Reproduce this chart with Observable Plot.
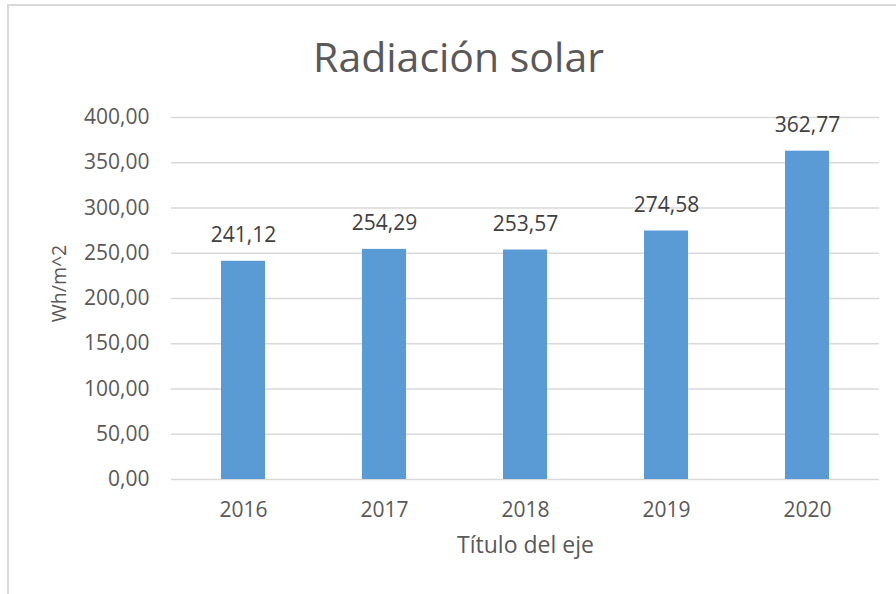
<!DOCTYPE html>
<html>
<head>
<meta charset="utf-8">
<script src="https://cdn.jsdelivr.net/npm/d3@7"></script>
<script src="https://cdn.jsdelivr.net/npm/@observablehq/plot@0.6"></script>
<style>
  body { margin: 0; background: #fff; }
  #wrap { position: relative; width: 896px; height: 594px; overflow: hidden; font-family: "Open Sans", sans-serif; }
  #border { position: absolute; left: 7px; top: 4px; width: 1000px; height: 1000px; border: 2px solid #d9d9d9; box-sizing: border-box; }
  #title { position: absolute; left: 0; width: 917px; top: 36px; text-align: center; font-size: 41px; color: #595959; line-height: 1; }
  #chart { position: absolute; left: 0; top: 0; }
</style>
</head>
<body>
<div id="wrap">
  <div id="border"></div>
  <div id="title">Radiación solar</div>
  <div id="chart"></div>
</div>
<script>
const years = ["2016", "2017", "2018", "2019", "2020"];
const values = [241.12, 254.29, 253.57, 274.58, 362.77];
const yTicks = [0, 50, 100, 150, 200, 250, 300, 350, 400];
const yLabel = "Wh/m^2";
const xLabel = "Título del eje";

const data = years.map((y, i) => ({year: y, value: values[i]}));
const fmt = v => d3.format(".2f")(v).replace(".", ",");

const plot = Plot.plot({
  width: 896,
  height: 594,
  marginLeft: 171,
  marginRight: 17,
  marginTop: 117,
  marginBottom: 115,
  style: {fontFamily: "Open Sans, sans-serif", fontSize: "21px", color: "#595959", background: "transparent"},
  x: {domain: years, paddingInner: 0.685, paddingOuter: 0.3425, label: null},
  y: {domain: [0, 400], label: null},
  marks: [
    Plot.ruleY(yTicks, {stroke: "#d9d9d9", strokeWidth: 1.3}),
    Plot.barY(data, {x: "year", y: "value", fill: "#5b9bd5"}),
    Plot.text(data, {x: "year", y: "value", text: d => fmt(d.value), lineAnchor: "bottom", dy: -19, fill: "#404040", fontSize: 21}),
    Plot.axisY(yTicks, {tickSize: 0, tickPadding: 22, tickFormat: fmt, fontSize: 21, fill: "#595959"}),
    Plot.axisX({tickSize: 0, tickPadding: 23, fontSize: 21, fill: "#595959"}),
    Plot.text([yLabel], {frameAnchor: "left", textAnchor: "middle", lineAnchor: "middle", dx: -112, dy: -15, rotate: -90, fontSize: 19.5, fill: "#595959"}),
    Plot.text([xLabel], {frameAnchor: "bottom", textAnchor: "middle", lineAnchor: "bottom", dy: 73, fontSize: 23, fill: "#595959"})
  ]
});
document.getElementById("chart").appendChild(plot);
</script>
</body>
</html>
